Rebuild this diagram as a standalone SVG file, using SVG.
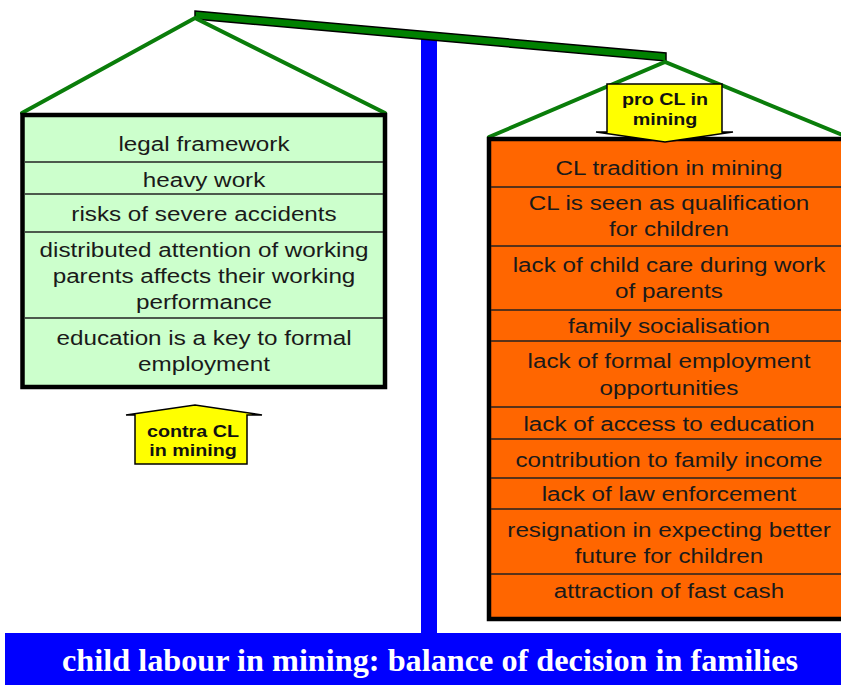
<svg xmlns="http://www.w3.org/2000/svg" width="841" height="685" viewBox="0 0 841 685">
<style>
.t{font-family:"Liberation Sans",Arial,sans-serif;font-size:21px;fill:#1a1a1a;text-anchor:middle}
.lb{font-family:"Liberation Sans",Arial,sans-serif;font-size:17px;font-weight:bold;fill:#111;text-anchor:middle}
.div{stroke:#222;stroke-width:1.5}
.rope{stroke:#0a7d0a;stroke-width:4;fill:none;stroke-linecap:round}
.box{stroke:#000;stroke-width:4.5}
.tag{fill:#ffff00;stroke:#000;stroke-width:1.5;stroke-linejoin:miter}
</style>
<rect width="841" height="685" fill="#fff"/>
<g id="stand">
<rect x="421" y="34" width="16" height="600" fill="#0000ff"/>
<rect x="5" y="633" width="836" height="52" fill="#0000ff"/>
<text x="430" y="671" textLength="736" lengthAdjust="spacingAndGlyphs" style="font-family:'Liberation Serif','Times New Roman',serif;font-weight:bold;font-size:31px;fill:#fff;text-anchor:middle">child labour in mining: balance of decision in families</text>
</g>
<g id="connectors">
<polygon points="195,11 666,53 666,61 195,19" fill="#008000" stroke="#000" stroke-width="1.5"/>
<path class="rope" d="M22,113 L195,18 L385,113"/>
<path class="rope" d="M489,137 L665,62 L845,136"/>
</g>
<g id="contra-box">
<rect class="box" x="22.5" y="115" width="362.5" height="272" fill="#ccffcc"/>
<line class="div" x1="25" y1="162" x2="383" y2="162"/>
<line class="div" x1="25" y1="194" x2="383" y2="194"/>
<line class="div" x1="25" y1="232" x2="383" y2="232"/>
<line class="div" x1="25" y1="318" x2="383" y2="318"/>
<g transform="translate(204,0) scale(1.155,1)">
<text class="t" x="0" y="151">legal framework</text>
<text class="t" x="0" y="187">heavy work</text>
<text class="t" x="0" y="221">risks of severe accidents</text>
<text class="t" x="0" y="257">distributed attention of working</text>
<text class="t" x="0" y="283">parents affects their working</text>
<text class="t" x="0" y="309">performance</text>
<text class="t" x="0" y="345">education is a key to formal</text>
<text class="t" x="0" y="371">employment</text>
</g>
</g>
<g id="pro-box">
<rect class="box" x="489" y="139" width="362" height="480" fill="#ff6600"/>
<line class="div" x1="491" y1="187" x2="841" y2="187"/>
<line class="div" x1="491" y1="246" x2="841" y2="246"/>
<line class="div" x1="491" y1="310" x2="841" y2="310"/>
<line class="div" x1="491" y1="341" x2="841" y2="341"/>
<line class="div" x1="491" y1="407" x2="841" y2="407"/>
<line class="div" x1="491" y1="439" x2="841" y2="439"/>
<line class="div" x1="491" y1="478" x2="841" y2="478"/>
<line class="div" x1="491" y1="509" x2="841" y2="509"/>
<line class="div" x1="491" y1="574" x2="841" y2="574" stroke="#555"/>
<g transform="translate(669,0) scale(1.155,1)">
<text class="t" x="0" y="175">CL tradition in mining</text>
<text class="t" x="0" y="210">CL is seen as qualification</text>
<text class="t" x="0" y="236">for children</text>
<text class="t" x="0" y="272">lack of child care during work</text>
<text class="t" x="0" y="298">of parents</text>
<text class="t" x="0" y="333">family socialisation</text>
<text class="t" x="0" y="368">lack of formal employment</text>
<text class="t" x="0" y="395">opportunities</text>
<text class="t" x="0" y="431">lack of access to education</text>
<text class="t" x="0" y="467">contribution to family income</text>
<text class="t" x="0" y="501">lack of law enforcement</text>
<text class="t" x="0" y="537">resignation in expecting better</text>
<text class="t" x="0" y="563">future for children</text>
<text class="t" x="0" y="598">attraction of fast cash</text>
</g>
</g>
<g id="pro-label">
<path class="tag" d="M607,84 H722 V132 H733 L665,142 L596,132 H607 Z"/>
<g transform="translate(665,0) scale(1.16,1)">
<text class="lb" x="0" y="105">pro CL in</text>
<text class="lb" x="0" y="125">mining</text>
</g>
</g>
<g id="contra-label">
<path class="tag" d="M135,464 H247 V415 H262 L195,405 L126,415 H135 Z"/>
<g transform="translate(193,0) scale(1.16,1)">
<text class="lb" x="0" y="437">contra CL</text>
<text class="lb" x="0" y="456">in mining</text>
</g>
</g>
</svg>
